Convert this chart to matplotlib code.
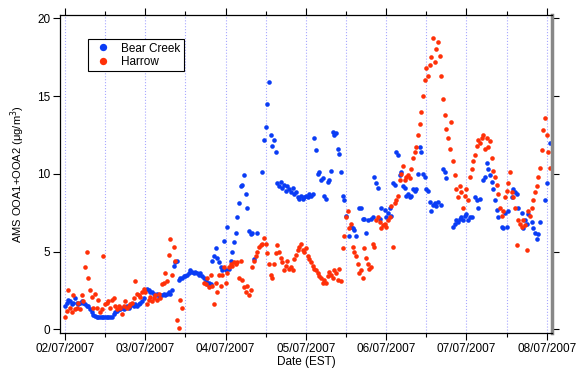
import numpy as np
import pandas as pd
import matplotlib
matplotlib.use("Agg")
import matplotlib.pyplot as plt
import matplotlib.dates as mdates

nan = np.nan

# AMS OOA1+OOA2 (ug/m3), one value every 30 min from 02/07/2007 00:00 (EST)
bear_creek_day1 = [1.5, 1.7, 1.9, 1.8, 1.6, 1.7, 2.0, 1.7, 1.6, 1.7, 1.8, 1.7, 1.6, 1.5, 1.5, 1.3,
                   1.1, 0.95, 0.85, 0.8, 0.8, 0.78, 0.78, 0.8, 0.78, 0.78, 0.8, 0.8, 0.8, 1.0, 1.1, 1.2,
                   1.3, 1.3, 1.4, 1.3, 1.4, 1.5, 1.4, 1.5, 1.6, 1.5, 1.6, 1.5, 1.6, 1.7, 1.8, 2.0]
bear_creek_day2 = [2.5, 2.6, 2.5, 2.4, 2.4, 2.3, 2.2, 2.3, 2.1, 2.2, 2.2, 2.3, 2.2, 2.3, 2.4, 2.3,
                   2.5, 4.1, 4.3, 4.4, 3.2, 3.3, 3.3, 3.4, 3.4, 3.5, 3.6, 3.8, 3.7, 3.6, 3.7, 3.6,
                   3.5, 3.6, 3.4, 3.3, 3.1, 2.9, 3.0, 2.9, 4.4, 4.7, 5.2, 4.6, 4.3, 4.0, 3.8, 5.7]
bear_creek_day3 = [3.8, 6.6, 3.9, 4.4, 5.0, 5.6, 6.2, 7.2, 8.1, 9.2, 9.3, 9.9, 8.7, 7.8, 6.3, 6.1,
                   6.2, 4.5, nan, 6.2, nan, nan, 10.1, 12.2, 13.0, 14.5, 15.9, 12.5, 11.8, 12.2, 11.4, 9.4,
                   9.2, 9.5, 9.1, 9.3, 8.9, 9.2, 9.0, 8.8, 9.1, 8.7, 8.8, 8.5, 8.4, 8.6, 8.4, 8.5]
bear_creek_day4 = [8.6, 8.5, 8.7, 8.6, 8.7, 12.3, 11.5, 10.0, 10.1, 9.6, 9.7, 8.6, 8.4, 9.5, 9.6, 10.2,
                   12.7, 12.5, 12.6, 11.6, 11.3, 10.1, 8.6, 8.3, 7.3, nan, 6.0, 6.6, 6.5, 6.4, 6.0, nan,
                   7.8, 7.8, 7.1, 7.1, 6.2, 7.0, nan, 7.1, 7.2, 9.8, 9.4, 9.1, 7.1, 7.8, nan, 7.7]
bear_creek_day5 = [7.2, 7.5, 7.8, 7.3, 9.4, 9.3, 11.4, 11.2, 9.9, 10.1, 9.2, 9.1, 8.6, 8.7, 8.5, 8.6,
                   9.0, 8.9, 9.0, 10.0, 11.7, 11.4, 10.0, 9.8, 9.0, 8.9, 8.2, 7.6, 8.0, 8.1, 7.9, 8.2,
                   nan, 8.0, 10.3, 10.1, 9.7, nan, nan, nan, 6.6, 6.8, 7.0, 6.9, 7.1, 7.2, 7.0, 7.3]
bear_creek_day6 = [7.4, 7.0, 7.2, 7.2, nan, 8.5, 8.3, 7.8, 8.4, nan, 9.6, 9.8, 10.7, 10.3, 9.9, 9.5,
                   9.0, 8.3, 7.7, 7.2, nan, 6.6, 6.5, 7.5, 6.6, 7.6, nan, 8.5, 9.0, 8.8, 8.7, 7.8,
                   nan, 7.5, 6.5, 7.0, 6.8, 7.4, nan, 6.9, 6.5, 6.2, 5.8, 6.1, 6.9, nan, nan, 8.3,
                   9.4, nan, 12.0]

harrow_day1 = [0.8, 1.2, 2.5, 1.4, 1.1, 2.2, 1.3, 1.4, 1.7, 1.3, 2.2, 1.8, 4.0, 5.0, 3.3, 2.5,
               2.1, 1.4, 2.3, 1.4, 1.9, 1.1, 1.3, 4.7, 1.6, 1.7, 1.8, 1.4, 1.9, 2.0, 1.5, 1.3,
               1.5, 1.4, 1.0, 1.5, 1.8, 1.4, 1.5, 1.6, 1.7, 2.0, 3.1, 2.3, 2.2, 2.1, 2.4, 2.6]
harrow_day2 = [2.4, 1.6, 1.9, 2.1, 1.8, 2.0, 2.2, 1.9, 2.3, 2.0, 2.9, 3.0, 3.6, 3.1, 4.8, 5.8,
               3.5, 5.3, 4.4, 0.6, 0.1, 1.9, 1.4, nan, nan, nan, nan, nan, nan, nan, nan, nan,
               nan, nan, nan, 3.0, 2.9, 3.3, 2.7, 3.5, 2.8, 1.6, 3.0, 2.4, 3.5, 2.8, 3.5, 4.0]
harrow_day3 = [3.0, 3.6, 4.0, 4.2, 4.1, 4.3, 4.2, 4.3, 3.3, 4.4, 3.2, 2.7, 2.4, 2.8, 2.2, 2.5,
               4.0, 4.4, 4.7, 5.0, 5.3, 5.4, 5.5, 5.9, 5.5, 4.9, 4.2, 3.5, 3.3, 4.2, 4.9, 5.4,
               5.0, 4.6, 4.3, 3.8, 4.1, 4.4, 3.9, 4.0, 3.8, 4.5, 4.8, 5.1, 5.3, 5.5, 5.1, 5.0]
harrow_day4 = [5.2, 4.7, 4.5, 4.3, 4.1, 3.9, 3.8, 3.6, 3.4, 3.3, 3.0, 3.2, 3.0, 3.4, 3.7, 3.5,
               3.3, 3.8, 3.6, 3.2, 3.9, 3.1, 5.2, 6.0, 7.2, 7.6, 6.5, 6.8, 5.3, 5.0, 4.7, 4.2,
               3.6, 3.8, 3.3, 5.2, 4.6, 4.2, 3.9, 4.0, 5.5, 5.3, 7.0, 7.2, 6.9, 6.5, 6.7, 6.8]
harrow_day5 = [6.6, 7.0, 7.2, 7.9, 5.3, 8.1, 8.3, 8.6, 9.6, 10.0, 10.5, 9.6, 9.8, 9.9, 9.7, 10.3,
               11.0, 11.4, 11.7, 12.5, 13.2, 14.0, 15.0, 16.0, 16.8, 16.3, 17.0, 17.5, 18.7, 17.2, 18.0, 18.5,
               17.6, 16.3, 14.8, 13.8, 12.9, 12.3, 11.6, 13.3, 10.8, 9.9, 9.0, 8.5, 9.2, 8.8, 7.8, 8.6]
harrow_day6 = [9.0, 8.3, 9.8, 10.3, 10.8, 11.2, 11.8, 12.2, 12.0, 12.3, 12.5, 11.6, 12.3, 11.7, 12.1, 11.0,
               10.2, 9.8, 9.3, 8.7, 7.8, 7.3, 7.6, 8.5, 8.9, 9.4, 10.1, 8.8, 8.5, 7.8, 5.4, 7.0,
               6.8, 6.6, 7.0, 6.7, 5.1, 7.6, 7.3, 7.8, 8.3, 8.8, 9.2, 9.8, 10.4, 11.5, 12.8, 13.6,
               12.5, 11.4, 10.4]

bear_creek = bear_creek_day1 + bear_creek_day2 + bear_creek_day3 + bear_creek_day4 + bear_creek_day5 + bear_creek_day6
harrow = harrow_day1 + harrow_day2 + harrow_day3 + harrow_day4 + harrow_day5 + harrow_day6

times_bc = pd.date_range("2007-07-02 00:00", periods=len(bear_creek), freq="30min")
times_hw = pd.date_range("2007-07-02 00:00", periods=len(harrow), freq="30min")

plt.rcParams["font.family"] = ["Liberation Sans", "DejaVu Sans"]

fig = plt.figure(figsize=(5.8, 3.69), dpi=100)
ax = fig.add_axes([0.1034, 0.097, 0.848, 0.862])

blue = "#0a3cf5"
red = "#ff3008"
ax.plot(times_bc, bear_creek, "o", color=blue, ms=3.3, mew=0, label="Bear Creek")
ax.plot(times_hw, harrow, "o", color=red, ms=3.3, mew=0, label="Harrow")

ax.set_xlim(pd.Timestamp("2007-07-01 22:30"), pd.Timestamp("2007-07-08 01:30"))
ax.set_ylim(-0.25, 20.2)

ax.xaxis.set_major_locator(mdates.DayLocator())
ax.xaxis.set_major_formatter(mdates.DateFormatter("%d/%m/%Y"))
ax.xaxis.set_minor_locator(mdates.HourLocator(byhour=[12]))
ax.set_yticks([0, 5, 10, 15, 20])

ax.grid(True, axis="x", which="both", color="#a8a8ff", linestyle=":", linewidth=0.8)
ax.tick_params(axis="both", which="major", direction="out", length=5, width=0.8,
               labelsize=8.5, pad=2)
ax.tick_params(axis="x", which="minor", direction="out", length=3, width=0.8)
ax.tick_params(axis="x", which="both", top=True)
ax.tick_params(axis="y", right=True)

for side in ["left", "bottom", "top"]:
    ax.spines[side].set_linewidth(0.9)
ax.spines["right"].set_color("#888888")
ax.spines["right"].set_linewidth(2.5)

ax.set_xlabel("Date (EST)", fontsize=8.5, labelpad=1)
ax.set_ylabel("AMS OOA1+OOA2 (\u03bcg/m$^3$)", fontsize=8, labelpad=7)

leg = ax.legend(loc="upper left", bbox_to_anchor=(0.057, 0.925), borderaxespad=0,
                fontsize=8.5, frameon=True, fancybox=False, edgecolor="black",
                framealpha=1, handletextpad=0.5, borderpad=0.3, labelspacing=0.1,
                markerscale=1.6)
leg.get_frame().set_linewidth(0.8)

fig.savefig("out.png", dpi=100)
